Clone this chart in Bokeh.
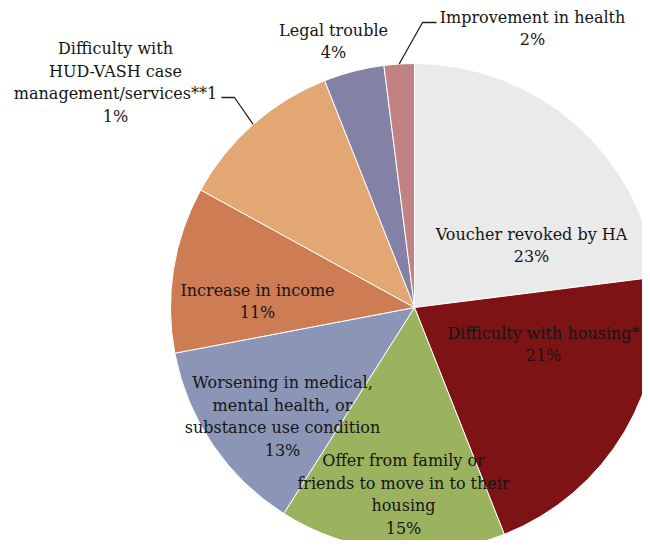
import numpy as np
from bokeh.plotting import figure
from bokeh.models import Range1d, ColumnDataSource
from bokeh.embed import file_html
from bokeh.resources import INLINE
from bokeh.core.properties import value

# ---- data ----
categories = [
    "Voucher revoked by HA",
    "Difficulty with housing*",
    "Offer from family or friends to move in to their housing",
    "Worsening in medical, mental health, or substance use condition",
    "Increase in income",
    "Difficulty with HUD-VASH case management/services**1",
    "Legal trouble",
    "Improvement in health",
]
shares = [23, 21, 15, 13, 11, 11, 4, 2]
label_texts = [
    "Voucher revoked by HA\n23%",
    "Difficulty with housing*\n21%",
    "Offer from family or\nfriends to move in to their\nhousing\n15%",
    "Worsening in medical,\nmental health, or\nsubstance use condition\n13%",
    "Increase in income\n11%",
    "Difficulty with\nHUD-VASH case\nmanagement/services**1\n1%",
    "Legal trouble\n4%",
    "Improvement in health\n2%",
]

# ---- style / layout ----
colors = ["#EAEAEA", "#7E1315", "#9BB25F", "#8B96B7", "#CD7C53", "#E2A773", "#8382A6", "#C08282"]
W, H = 642, 540
def sx(x): return x
def sy(y): return H - y

cx, cy, R = 414, 307, 244
label_pos = [(531, 245), (543, 344), (403, 494), (282, 416), (257, 301), (115, 82), (333, 41), (532, 28)]
leader_elbows = {5: [(221, 97), (234, 97)], 7: [(436, 22), (422, 22)]}

frac = np.array(shares, dtype=float) / sum(shares)
cum = np.concatenate([[0], np.cumsum(frac)])
start = np.pi / 2 - cum[1:] * 2 * np.pi
end = np.pi / 2 - cum[:-1] * 2 * np.pi

p = figure(width=W, height=H, output_backend="svg", toolbar_location=None,
           x_range=Range1d(0, W), y_range=Range1d(0, H),
           min_border=0, outline_line_color=None)
p.axis.visible = False
p.grid.visible = False
p.background_fill_color = "white"
p.border_fill_color = "white"

src = ColumnDataSource(dict(start=start, end=end, color=colors, cat=categories))
p.wedge(x=sx(cx), y=sy(cy), radius=R, start_angle="start", end_angle="end",
        fill_color="color", line_color="white", line_width=1, source=src)

# leader lines
for i, pts in leader_elbows.items():
    mid = (start[i] + end[i]) / 2
    ex = cx + R * np.cos(mid)
    ey = cy - R * np.sin(mid)
    xs = [sx(x) for x, _ in pts] + [sx(ex)]
    ys = [sy(y) for _, y in pts] + [sy(ey)]
    p.line(xs, ys, line_color="#222222", line_width=1.3)

lsrc = ColumnDataSource(dict(x=[sx(x) for x, _ in label_pos], y=[sy(y) for _, y in label_pos], t=label_texts))
p.text(x="x", y="y", text="t", source=lsrc, text_align="center", text_baseline="middle",
       text_font=value("DejaVu Serif"), text_font_size="16px", text_line_height=1.2,
       text_color="#151515")

open("out.html", "w").write(file_html(p, INLINE))
